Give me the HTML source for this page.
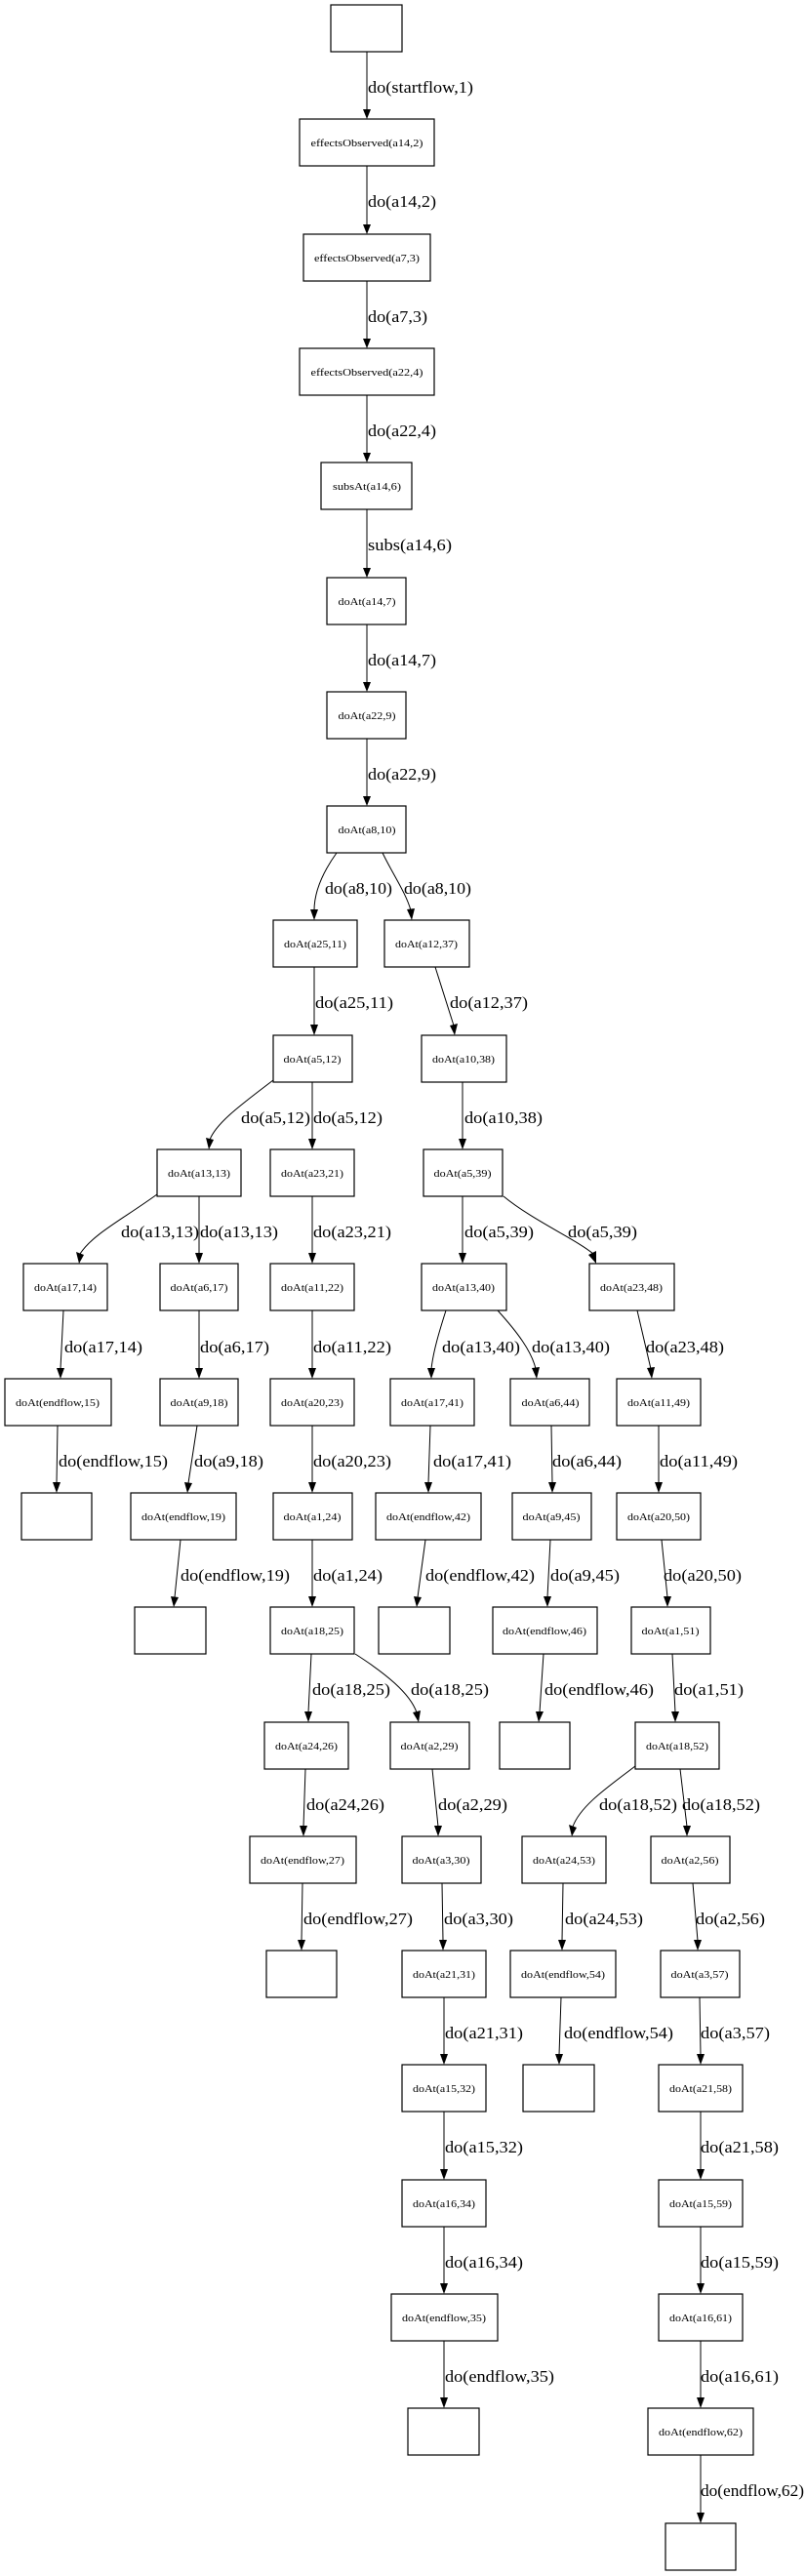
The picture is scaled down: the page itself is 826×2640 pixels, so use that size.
<!DOCTYPE html>
<html><head><meta charset="utf-8"><style>
html,body{margin:0;padding:0;background:#fff;}
svg{display:block;}
.n{fill:#fff;stroke:#000;stroke-width:1.2;}
.t{font-family:"Liberation Serif",serif;font-size:11px;text-anchor:middle;}
.l{font-family:"Liberation Serif",serif;font-size:17px;}
.e{fill:none;stroke:#000;stroke-width:1;}
</style></head><body>
<svg width="826" height="2640" viewBox="0 0 826 2640" xmlns="http://www.w3.org/2000/svg">
<rect class="n" x="339" y="5" width="73" height="48"/>
<rect class="n" x="307" y="122" width="138" height="48"/><text class="t" x="376" y="150" textLength="115" lengthAdjust="spacingAndGlyphs">effectsObserved(a14,2)</text>
<rect class="n" x="311" y="240" width="130" height="48"/><text class="t" x="376" y="268" textLength="108" lengthAdjust="spacingAndGlyphs">effectsObserved(a7,3)</text>
<rect class="n" x="307" y="357" width="138" height="48"/><text class="t" x="376" y="385" textLength="115" lengthAdjust="spacingAndGlyphs">effectsObserved(a22,4)</text>
<rect class="n" x="329" y="474" width="93" height="48"/><text class="t" x="376" y="502" textLength="70" lengthAdjust="spacingAndGlyphs">subsAt(a14,6)</text>
<rect class="n" x="335" y="592" width="81" height="48"/><text class="t" x="376" y="620" textLength="59" lengthAdjust="spacingAndGlyphs">doAt(a14,7)</text>
<rect class="n" x="335" y="709" width="81" height="48"/><text class="t" x="376" y="737" textLength="59" lengthAdjust="spacingAndGlyphs">doAt(a22,9)</text>
<rect class="n" x="335" y="826" width="81" height="48"/><text class="t" x="376" y="854" textLength="59" lengthAdjust="spacingAndGlyphs">doAt(a8,10)</text>

<rect class="n" x="280" y="943" width="86" height="48"/><text class="t" x="323" y="971" textLength="64" lengthAdjust="spacingAndGlyphs">doAt(a25,11)</text>
<rect class="n" x="394" y="943" width="87" height="48"/><text class="t" x="437" y="971" textLength="64" lengthAdjust="spacingAndGlyphs">doAt(a12,37)</text>

<rect class="n" x="280" y="1061" width="81" height="48"/><text class="t" x="320" y="1089" textLength="59" lengthAdjust="spacingAndGlyphs">doAt(a5,12)</text>
<rect class="n" x="432" y="1061" width="87" height="48"/><text class="t" x="475" y="1089" textLength="64" lengthAdjust="spacingAndGlyphs">doAt(a10,38)</text>

<rect class="n" x="161" y="1178" width="86" height="48"/><text class="t" x="204" y="1206" textLength="64" lengthAdjust="spacingAndGlyphs">doAt(a13,13)</text>
<rect class="n" x="277" y="1178" width="86" height="48"/><text class="t" x="320" y="1206" textLength="64" lengthAdjust="spacingAndGlyphs">doAt(a23,21)</text>
<rect class="n" x="434" y="1178" width="81" height="48"/><text class="t" x="474" y="1206" textLength="59" lengthAdjust="spacingAndGlyphs">doAt(a5,39)</text>

<rect class="n" x="24" y="1295" width="86" height="48"/><text class="t" x="67" y="1323" textLength="64" lengthAdjust="spacingAndGlyphs">doAt(a17,14)</text>
<rect class="n" x="164" y="1295" width="80" height="48"/><text class="t" x="204" y="1323" textLength="59" lengthAdjust="spacingAndGlyphs">doAt(a6,17)</text>
<rect class="n" x="277" y="1295" width="86" height="48"/><text class="t" x="320" y="1323" textLength="64" lengthAdjust="spacingAndGlyphs">doAt(a11,22)</text>
<rect class="n" x="432" y="1295" width="87" height="48"/><text class="t" x="475" y="1323" textLength="64" lengthAdjust="spacingAndGlyphs">doAt(a13,40)</text>
<rect class="n" x="604" y="1295" width="87" height="48"/><text class="t" x="647" y="1323" textLength="64" lengthAdjust="spacingAndGlyphs">doAt(a23,48)</text>

<rect class="n" x="5" y="1413" width="109" height="48"/><text class="t" x="59" y="1441" textLength="86" lengthAdjust="spacingAndGlyphs">doAt(endflow,15)</text>
<rect class="n" x="164" y="1413" width="80" height="48"/><text class="t" x="204" y="1441" textLength="59" lengthAdjust="spacingAndGlyphs">doAt(a9,18)</text>
<rect class="n" x="277" y="1413" width="86" height="48"/><text class="t" x="320" y="1441" textLength="64" lengthAdjust="spacingAndGlyphs">doAt(a20,23)</text>
<rect class="n" x="400" y="1413" width="86" height="48"/><text class="t" x="443" y="1441" textLength="64" lengthAdjust="spacingAndGlyphs">doAt(a17,41)</text>
<rect class="n" x="523" y="1413" width="81" height="48"/><text class="t" x="564" y="1441" textLength="59" lengthAdjust="spacingAndGlyphs">doAt(a6,44)</text>
<rect class="n" x="632" y="1413" width="86" height="48"/><text class="t" x="675" y="1441" textLength="64" lengthAdjust="spacingAndGlyphs">doAt(a11,49)</text>

<rect class="n" x="22" y="1530" width="72" height="48"/>
<rect class="n" x="134" y="1530" width="108" height="48"/><text class="t" x="188" y="1558" textLength="86" lengthAdjust="spacingAndGlyphs">doAt(endflow,19)</text>
<rect class="n" x="280" y="1530" width="81" height="48"/><text class="t" x="320" y="1558" textLength="59" lengthAdjust="spacingAndGlyphs">doAt(a1,24)</text>
<rect class="n" x="385" y="1530" width="108" height="48"/><text class="t" x="439" y="1558" textLength="86" lengthAdjust="spacingAndGlyphs">doAt(endflow,42)</text>
<rect class="n" x="525" y="1530" width="81" height="48"/><text class="t" x="565" y="1558" textLength="59" lengthAdjust="spacingAndGlyphs">doAt(a9,45)</text>
<rect class="n" x="632" y="1530" width="86" height="48"/><text class="t" x="675" y="1558" textLength="64" lengthAdjust="spacingAndGlyphs">doAt(a20,50)</text>

<rect class="n" x="138" y="1647" width="73" height="48"/>
<rect class="n" x="277" y="1647" width="86" height="48"/><text class="t" x="320" y="1675" textLength="64" lengthAdjust="spacingAndGlyphs">doAt(a18,25)</text>
<rect class="n" x="388" y="1647" width="73" height="48"/>
<rect class="n" x="505" y="1647" width="107" height="48"/><text class="t" x="558" y="1675" textLength="86" lengthAdjust="spacingAndGlyphs">doAt(endflow,46)</text>
<rect class="n" x="647" y="1647" width="81" height="48"/><text class="t" x="687" y="1675" textLength="59" lengthAdjust="spacingAndGlyphs">doAt(a1,51)</text>

<rect class="n" x="271" y="1765" width="86" height="48"/><text class="t" x="314" y="1793" textLength="64" lengthAdjust="spacingAndGlyphs">doAt(a24,26)</text>
<rect class="n" x="400" y="1765" width="81" height="48"/><text class="t" x="440" y="1793" textLength="59" lengthAdjust="spacingAndGlyphs">doAt(a2,29)</text>
<rect class="n" x="512" y="1765" width="72" height="48"/>
<rect class="n" x="651" y="1765" width="86" height="48"/><text class="t" x="694" y="1793" textLength="64" lengthAdjust="spacingAndGlyphs">doAt(a18,52)</text>

<rect class="n" x="256" y="1882" width="109" height="48"/><text class="t" x="310" y="1910" textLength="86" lengthAdjust="spacingAndGlyphs">doAt(endflow,27)</text>
<rect class="n" x="412" y="1882" width="81" height="48"/><text class="t" x="452" y="1910" textLength="59" lengthAdjust="spacingAndGlyphs">doAt(a3,30)</text>
<rect class="n" x="535" y="1882" width="86" height="48"/><text class="t" x="578" y="1910" textLength="64" lengthAdjust="spacingAndGlyphs">doAt(a24,53)</text>
<rect class="n" x="667" y="1882" width="81" height="48"/><text class="t" x="707" y="1910" textLength="59" lengthAdjust="spacingAndGlyphs">doAt(a2,56)</text>

<rect class="n" x="273" y="1999" width="72" height="48"/>
<rect class="n" x="412" y="1999" width="86" height="48"/><text class="t" x="455" y="2027" textLength="64" lengthAdjust="spacingAndGlyphs">doAt(a21,31)</text>
<rect class="n" x="523" y="1999" width="108" height="48"/><text class="t" x="577" y="2027" textLength="86" lengthAdjust="spacingAndGlyphs">doAt(endflow,54)</text>
<rect class="n" x="677" y="1999" width="81" height="48"/><text class="t" x="717" y="2027" textLength="59" lengthAdjust="spacingAndGlyphs">doAt(a3,57)</text>

<rect class="n" x="412" y="2116" width="86" height="48"/><text class="t" x="455" y="2144" textLength="64" lengthAdjust="spacingAndGlyphs">doAt(a15,32)</text>
<rect class="n" x="536" y="2116" width="73" height="48"/>
<rect class="n" x="675" y="2116" width="86" height="48"/><text class="t" x="718" y="2144" textLength="64" lengthAdjust="spacingAndGlyphs">doAt(a21,58)</text>

<rect class="n" x="412" y="2234" width="86" height="48"/><text class="t" x="455" y="2262" textLength="64" lengthAdjust="spacingAndGlyphs">doAt(a16,34)</text>
<rect class="n" x="675" y="2234" width="86" height="48"/><text class="t" x="718" y="2262" textLength="64" lengthAdjust="spacingAndGlyphs">doAt(a15,59)</text>

<rect class="n" x="401" y="2351" width="109" height="48"/><text class="t" x="455" y="2379" textLength="86" lengthAdjust="spacingAndGlyphs">doAt(endflow,35)</text>
<rect class="n" x="675" y="2351" width="86" height="48"/><text class="t" x="718" y="2379" textLength="64" lengthAdjust="spacingAndGlyphs">doAt(a16,61)</text>

<rect class="n" x="418" y="2468" width="73" height="48"/>
<rect class="n" x="664" y="2468" width="108" height="48"/><text class="t" x="718" y="2496" textLength="86" lengthAdjust="spacingAndGlyphs">doAt(endflow,62)</text>

<rect class="n" x="682" y="2586" width="72" height="48"/>

<g class="e">
<path d="M376 53V112M376 170V230M376 288V347M376 405V464M376 522V582M376 640V699M376 757V816"/>
<path d="M345 874C330 895 322 915 322 933"/>
<path d="M392 874C402 895 416 915 421 933"/>
<path d="M322 991V1051M446 991L465 1051"/>
<path d="M280 1107C250 1130 222 1150 215 1168"/>
<path d="M320 1109V1168M474 1109V1168"/>
<path d="M161 1224C125 1250 95 1265 82 1285"/>
<path d="M204 1226V1285M320 1226V1285M474 1226V1285"/>
<path d="M516 1226C545 1250 590 1270 608 1285"/>
<path d="M65 1343L62 1403M204 1343V1403M320 1343V1403M653 1343L667 1403"/>
<path d="M457 1343C450 1365 444 1385 442 1403"/>
<path d="M510 1343C530 1365 545 1385 549 1403"/>
<path d="M59 1461L58 1520M202 1461L193 1520M320 1461V1520M441 1461L439 1520M565 1461L566 1520M675 1461V1520"/>
<path d="M185 1578L179 1637M320 1578V1637M436 1578L428 1637M564 1578L561 1637M678 1578L684 1637"/>
<path d="M319 1695L316 1755M557 1695L553 1755M689 1695L692 1755"/>
<path d="M364 1695C395 1715 420 1735 427 1755"/>
<path d="M313 1813L311 1872M443 1813L449 1872M697 1813L704 1872"/>
<path d="M651 1810C625 1830 595 1850 587 1872"/>
<path d="M310 1930L309 1989M453 1930L454 1989M577 1930L576 1989M710 1930L715 1989"/>
<path d="M455 2047V2106M575 2047L573 2106M717 2047L718 2106"/>
<path d="M455 2164V2224M718 2164V2224M455 2282V2341M718 2282V2341M455 2399V2458M718 2399V2458M718 2516V2576"/>
</g>
<g fill="#000">
<polygon points="372,112 380,112 376,122"/>
<polygon points="372,230 380,230 376,240"/>
<polygon points="372,347 380,347 376,357"/>
<polygon points="372,464 380,464 376,474"/>
<polygon points="372,582 380,582 376,592"/>
<polygon points="372,699 380,699 376,709"/>
<polygon points="372,816 380,816 376,826"/>
<polygon points="318,932 326,932 322,943"/>
<polygon points="417,932 425,931 422,943"/>
<polygon points="318,1050 326,1050 322,1061"/>
<polygon points="461,1051 469,1049 466,1061"/>
<polygon points="211,1166 219,1168 214,1178"/>
<polygon points="316,1167 324,1167 320,1178"/>
<polygon points="470,1167 478,1167 474,1178"/>
<polygon points="78,1283 86,1286 81,1295"/>
<polygon points="200,1284 208,1284 204,1295"/>
<polygon points="316,1284 324,1284 320,1295"/>
<polygon points="470,1284 478,1284 474,1295"/>
<polygon points="603,1286 611,1282 611,1295"/>
<polygon points="58,1402 66,1402 62,1413"/>
<polygon points="200,1402 208,1402 204,1413"/>
<polygon points="316,1402 324,1402 320,1413"/>
<polygon points="438,1402 446,1402 442,1413"/>
<polygon points="545,1402 553,1401 550,1413"/>
<polygon points="663,1402 671,1401 668,1413"/>
<polygon points="54,1519 62,1519 58,1530"/>
<polygon points="189,1519 197,1520 192,1530"/>
<polygon points="316,1519 324,1519 320,1530"/>
<polygon points="435,1519 443,1519 439,1530"/>
<polygon points="562,1519 570,1519 566,1530"/>
<polygon points="671,1519 679,1519 675,1530"/>
<polygon points="175,1636 183,1637 178,1647"/>
<polygon points="316,1636 324,1636 320,1647"/>
<polygon points="424,1636 432,1637 427,1647"/>
<polygon points="557,1636 565,1636 561,1647"/>
<polygon points="680,1636 688,1636 684,1647"/>
<polygon points="312,1754 320,1754 316,1765"/>
<polygon points="423,1755 431,1753 429,1765"/>
<polygon points="549,1754 557,1754 552,1765"/>
<polygon points="688,1754 696,1754 692,1765"/>
<polygon points="307,1871 315,1871 311,1882"/>
<polygon points="445,1871 453,1871 449,1882"/>
<polygon points="583,1870 591,1873 586,1882"/>
<polygon points="700,1871 708,1871 704,1882"/>
<polygon points="305,1988 313,1988 309,1999"/>
<polygon points="450,1988 458,1988 454,1999"/>
<polygon points="572,1988 580,1988 576,1999"/>
<polygon points="711,1988 719,1988 715,1999"/>
<polygon points="451,2105 459,2105 455,2116"/>
<polygon points="569,2105 577,2105 573,2116"/>
<polygon points="714,2105 722,2105 718,2116"/>
<polygon points="451,2223 459,2223 455,2234"/>
<polygon points="714,2223 722,2223 718,2234"/>
<polygon points="451,2340 459,2340 455,2351"/>
<polygon points="714,2340 722,2340 718,2351"/>
<polygon points="451,2457 459,2457 455,2468"/>
<polygon points="714,2457 722,2457 718,2468"/>
<polygon points="714,2575 722,2575 718,2586"/>
</g>
<g class="l">
<text x="377" y="95" textLength="108" lengthAdjust="spacingAndGlyphs">do(startflow,1)</text>
<text x="377" y="212" textLength="70" lengthAdjust="spacingAndGlyphs">do(a14,2)</text>
<text x="377" y="330" textLength="61" lengthAdjust="spacingAndGlyphs">do(a7,3)</text>
<text x="377" y="447" textLength="70" lengthAdjust="spacingAndGlyphs">do(a22,4)</text>
<text x="377" y="564" textLength="86" lengthAdjust="spacingAndGlyphs">subs(a14,6)</text>
<text x="377" y="682" textLength="70" lengthAdjust="spacingAndGlyphs">do(a14,7)</text>
<text x="377" y="799" textLength="70" lengthAdjust="spacingAndGlyphs">do(a22,9)</text>
<text x="333" y="916" textLength="69" lengthAdjust="spacingAndGlyphs">do(a8,10)</text>
<text x="414" y="916" textLength="69" lengthAdjust="spacingAndGlyphs">do(a8,10)</text>
<text x="323" y="1033" textLength="80" lengthAdjust="spacingAndGlyphs">do(a25,11)</text>
<text x="461" y="1033" textLength="80" lengthAdjust="spacingAndGlyphs">do(a12,37)</text>
<text x="247" y="1151" textLength="71" lengthAdjust="spacingAndGlyphs">do(a5,12)</text>
<text x="321" y="1151" textLength="71" lengthAdjust="spacingAndGlyphs">do(a5,12)</text>
<text x="476" y="1151" textLength="80" lengthAdjust="spacingAndGlyphs">do(a10,38)</text>
<text x="124" y="1268" textLength="80" lengthAdjust="spacingAndGlyphs">do(a13,13)</text>
<text x="205" y="1268" textLength="80" lengthAdjust="spacingAndGlyphs">do(a13,13)</text>
<text x="321" y="1268" textLength="80" lengthAdjust="spacingAndGlyphs">do(a23,21)</text>
<text x="476" y="1268" textLength="71" lengthAdjust="spacingAndGlyphs">do(a5,39)</text>
<text x="582" y="1268" textLength="71" lengthAdjust="spacingAndGlyphs">do(a5,39)</text>
<text x="66" y="1386" textLength="80" lengthAdjust="spacingAndGlyphs">do(a17,14)</text>
<text x="205" y="1386" textLength="71" lengthAdjust="spacingAndGlyphs">do(a6,17)</text>
<text x="321" y="1386" textLength="80" lengthAdjust="spacingAndGlyphs">do(a11,22)</text>
<text x="453" y="1386" textLength="80" lengthAdjust="spacingAndGlyphs">do(a13,40)</text>
<text x="545" y="1386" textLength="80" lengthAdjust="spacingAndGlyphs">do(a13,40)</text>
<text x="662" y="1386" textLength="80" lengthAdjust="spacingAndGlyphs">do(a23,48)</text>
<text x="60" y="1503" textLength="112" lengthAdjust="spacingAndGlyphs">do(endflow,15)</text>
<text x="199" y="1503" textLength="71" lengthAdjust="spacingAndGlyphs">do(a9,18)</text>
<text x="321" y="1503" textLength="80" lengthAdjust="spacingAndGlyphs">do(a20,23)</text>
<text x="444" y="1503" textLength="80" lengthAdjust="spacingAndGlyphs">do(a17,41)</text>
<text x="566" y="1503" textLength="71" lengthAdjust="spacingAndGlyphs">do(a6,44)</text>
<text x="676" y="1503" textLength="80" lengthAdjust="spacingAndGlyphs">do(a11,49)</text>
<text x="185" y="1620" textLength="112" lengthAdjust="spacingAndGlyphs">do(endflow,19)</text>
<text x="321" y="1620" textLength="71" lengthAdjust="spacingAndGlyphs">do(a1,24)</text>
<text x="436" y="1620" textLength="112" lengthAdjust="spacingAndGlyphs">do(endflow,42)</text>
<text x="564" y="1620" textLength="71" lengthAdjust="spacingAndGlyphs">do(a9,45)</text>
<text x="680" y="1620" textLength="80" lengthAdjust="spacingAndGlyphs">do(a20,50)</text>
<text x="320" y="1737" textLength="80" lengthAdjust="spacingAndGlyphs">do(a18,25)</text>
<text x="421" y="1737" textLength="80" lengthAdjust="spacingAndGlyphs">do(a18,25)</text>
<text x="558" y="1737" textLength="112" lengthAdjust="spacingAndGlyphs">do(endflow,46)</text>
<text x="691" y="1737" textLength="71" lengthAdjust="spacingAndGlyphs">do(a1,51)</text>
<text x="314" y="1855" textLength="80" lengthAdjust="spacingAndGlyphs">do(a24,26)</text>
<text x="449" y="1855" textLength="71" lengthAdjust="spacingAndGlyphs">do(a2,29)</text>
<text x="614" y="1855" textLength="80" lengthAdjust="spacingAndGlyphs">do(a18,52)</text>
<text x="699" y="1855" textLength="80" lengthAdjust="spacingAndGlyphs">do(a18,52)</text>
<text x="311" y="1972" textLength="112" lengthAdjust="spacingAndGlyphs">do(endflow,27)</text>
<text x="455" y="1972" textLength="71" lengthAdjust="spacingAndGlyphs">do(a3,30)</text>
<text x="579" y="1972" textLength="80" lengthAdjust="spacingAndGlyphs">do(a24,53)</text>
<text x="713" y="1972" textLength="71" lengthAdjust="spacingAndGlyphs">do(a2,56)</text>
<text x="456" y="2089" textLength="80" lengthAdjust="spacingAndGlyphs">do(a21,31)</text>
<text x="578" y="2089" textLength="112" lengthAdjust="spacingAndGlyphs">do(endflow,54)</text>
<text x="718" y="2089" textLength="71" lengthAdjust="spacingAndGlyphs">do(a3,57)</text>
<text x="456" y="2206" textLength="80" lengthAdjust="spacingAndGlyphs">do(a15,32)</text>
<text x="718" y="2206" textLength="80" lengthAdjust="spacingAndGlyphs">do(a21,58)</text>
<text x="456" y="2324" textLength="80" lengthAdjust="spacingAndGlyphs">do(a16,34)</text>
<text x="718" y="2324" textLength="80" lengthAdjust="spacingAndGlyphs">do(a15,59)</text>
<text x="456" y="2441" textLength="112" lengthAdjust="spacingAndGlyphs">do(endflow,35)</text>
<text x="718" y="2441" textLength="80" lengthAdjust="spacingAndGlyphs">do(a16,61)</text>
<text x="718" y="2558" textLength="106" lengthAdjust="spacingAndGlyphs">do(endflow,62)</text>
</g>
</svg>
</body></html>
